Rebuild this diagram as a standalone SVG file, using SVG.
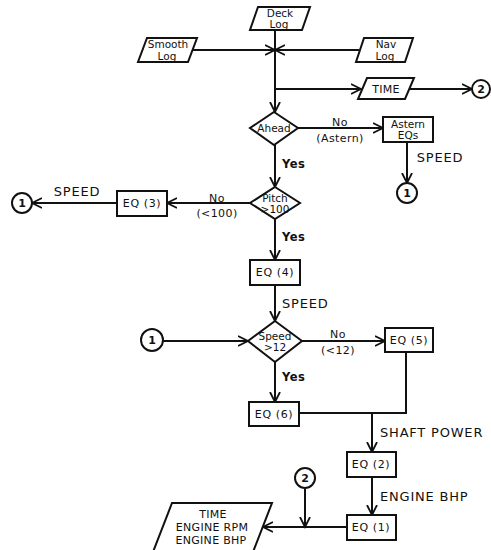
<svg xmlns="http://www.w3.org/2000/svg" width="491" height="550" viewBox="0 0 491 550">
<style>
.s{fill:#fff;stroke:#111;stroke-width:2}
.c{fill:none;stroke:#111;stroke-width:2}
text{font-family:"DejaVu Sans","Liberation Sans",sans-serif;fill:#111;dominant-baseline:central}
.n{font-size:10.5px;text-anchor:middle}
.o{font-size:11px;text-anchor:middle;letter-spacing:0.3px}
.b{font-size:11px;text-anchor:middle;letter-spacing:0.6px}
.l{font-size:13px;letter-spacing:0.8px}
.y{font-size:11.5px;letter-spacing:0.5px;font-weight:bold}
.lc{font-size:13px;letter-spacing:0.8px;text-anchor:middle}
.m{font-size:11px;text-anchor:middle;letter-spacing:0.4px}
.d{font-size:11px;text-anchor:middle;font-weight:bold}
</style>
<defs>
<marker id="a" markerUnits="userSpaceOnUse" markerWidth="12" markerHeight="12" refX="10" refY="5" orient="auto" viewBox="0 0 12 10">
<path d="M0,0 L10,5 L0,10" fill="none" stroke="#111" stroke-width="1.8"/>
</marker>
</defs>
<g id="connectors">
<path class="c" d="M275,30 V112" marker-end="url(#a)"/>
<path class="c" d="M193,50 H275" marker-end="url(#a)"/>
<path class="c" d="M359,50 H275" marker-end="url(#a)"/>
<path class="c" d="M275,89 H361" marker-end="url(#a)"/>
<path class="c" d="M409,89 H472" marker-end="url(#a)"/>
<path class="c" d="M298,128 H383" marker-end="url(#a)"/>
<path class="c" d="M407,142 V183" marker-end="url(#a)"/>
<path class="c" d="M275,145 V187" marker-end="url(#a)"/>
<path class="c" d="M250,203 H167" marker-end="url(#a)"/>
<path class="c" d="M117,203 H32" marker-end="url(#a)"/>
<path class="c" d="M275,218 V260" marker-end="url(#a)"/>
<path class="c" d="M275,285 V321" marker-end="url(#a)"/>
<path class="c" d="M163,341 H248" marker-end="url(#a)"/>
<path class="c" d="M302,341 H385" marker-end="url(#a)"/>
<path class="c" d="M275,362 V402" marker-end="url(#a)"/>
<path class="c" d="M406,352 V413 H299"/>
<path class="c" d="M372,413 V452" marker-end="url(#a)"/>
<path class="c" d="M372,477 V515" marker-end="url(#a)"/>
<path class="c" d="M347,527 H263" marker-end="url(#a)"/>
<path class="c" d="M305,489 V527" marker-end="url(#a)"/>
<text class="m" x="340" y="122">No</text>
<text class="m" x="340" y="138">(Astern)</text>
<text class="lc" x="440" y="157">SPEED</text>
<text class="y" x="282" y="164">Yes</text>
<text class="m" x="217" y="198">No</text>
<text class="m" x="217" y="213">(&lt;100)</text>
<text class="lc" x="77" y="191">SPEED</text>
<text class="y" x="282" y="237">Yes</text>
<text class="l" x="282" y="303">SPEED</text>
<text class="m" x="338" y="334">No</text>
<text class="m" x="338" y="350">(&lt;12)</text>
<text class="y" x="282" y="377">Yes</text>
<text class="l" x="380" y="432">SHAFT POWER</text>
<text class="l" x="380" y="496">ENGINE BHP</text>
</g>
<g id="deck-log">
<polygon class="s" points="258,7 310,7 302,30 250,30"/>
<text class="n" x="280" y="13">Deck</text>
<text class="n" x="279" y="24">Log</text>
</g>
<g id="smooth-log">
<polygon class="s" points="147,38 197,38 188,62 138,62"/>
<text class="n" x="168" y="44">Smooth</text>
<text class="n" x="167" y="56">Log</text>
</g>
<g id="nav-log">
<polygon class="s" points="364,38 413,38 405,62 356,62"/>
<text class="n" x="386" y="44">Nav</text>
<text class="n" x="385" y="56">Log</text>
</g>
<g id="time">
<polygon class="s" points="367,78 414,78 405,99 358,99"/>
<text class="o" x="386" y="89">TIME</text>
</g>
<g id="circle2-top">
<circle class="s" cx="481" cy="89" r="9"/>
<text class="d" x="481" y="89">2</text>
</g>
<g id="ahead">
<polygon class="s" points="274,112 298,128 274,145 250,128"/>
<text class="n" x="274" y="128">Ahead</text>
</g>
<g id="astern-eqs">
<rect class="s" x="383" y="117" width="50" height="25"/>
<text class="n" x="408" y="124">Astern</text>
<text class="n" x="408" y="135">EQs</text>
</g>
<g id="circle1-astern">
<circle class="s" cx="407" cy="193" r="10"/>
<text class="d" x="407" y="193">1</text>
</g>
<g id="pitch">
<polygon class="s" points="275,187 300,203 275,219 250,203"/>
<text class="n" x="275" y="198">Pitch</text>
<text class="n" x="275" y="209">&gt;100</text>
</g>
<g id="eq3">
<rect class="s" x="117" y="191" width="50" height="25"/>
<text class="b" x="142" y="203">EQ (3)</text>
</g>
<g id="circle1-left">
<circle class="s" cx="22" cy="203" r="10"/>
<text class="d" x="22" y="203">1</text>
</g>
<g id="eq4">
<rect class="s" x="250" y="260" width="50" height="25"/>
<text class="b" x="275" y="272">EQ (4)</text>
</g>
<g id="circle1-speed">
<circle class="s" cx="152" cy="340" r="11"/>
<text class="d" x="152" y="340">1</text>
</g>
<g id="speed">
<polygon class="s" points="275,321 302,341 275,362 248,341"/>
<text class="n" x="275" y="336">Speed</text>
<text class="n" x="275" y="347">&gt;12</text>
</g>
<g id="eq5">
<rect class="s" x="385" y="328" width="48" height="24"/>
<text class="b" x="409" y="340">EQ (5)</text>
</g>
<g id="eq6">
<rect class="s" x="249" y="402" width="50" height="24"/>
<text class="b" x="274" y="414">EQ (6)</text>
</g>
<g id="eq2">
<rect class="s" x="347" y="452" width="49" height="25"/>
<text class="b" x="371" y="464">EQ (2)</text>
</g>
<g id="circle2-bottom">
<circle class="s" cx="305" cy="478" r="10"/>
<text class="d" x="305" y="478">2</text>
</g>
<g id="eq1">
<rect class="s" x="347" y="515" width="49" height="25"/>
<text class="b" x="371" y="527">EQ (1)</text>
</g>
<g id="output">
<polygon class="s" points="172,503 272,503 253,552 153,552"/>
<text class="o" x="213" y="514">TIME</text>
<text class="o" x="212" y="527">ENGINE RPM</text>
<text class="o" x="211" y="540">ENGINE BHP</text>
</g>
</svg>
